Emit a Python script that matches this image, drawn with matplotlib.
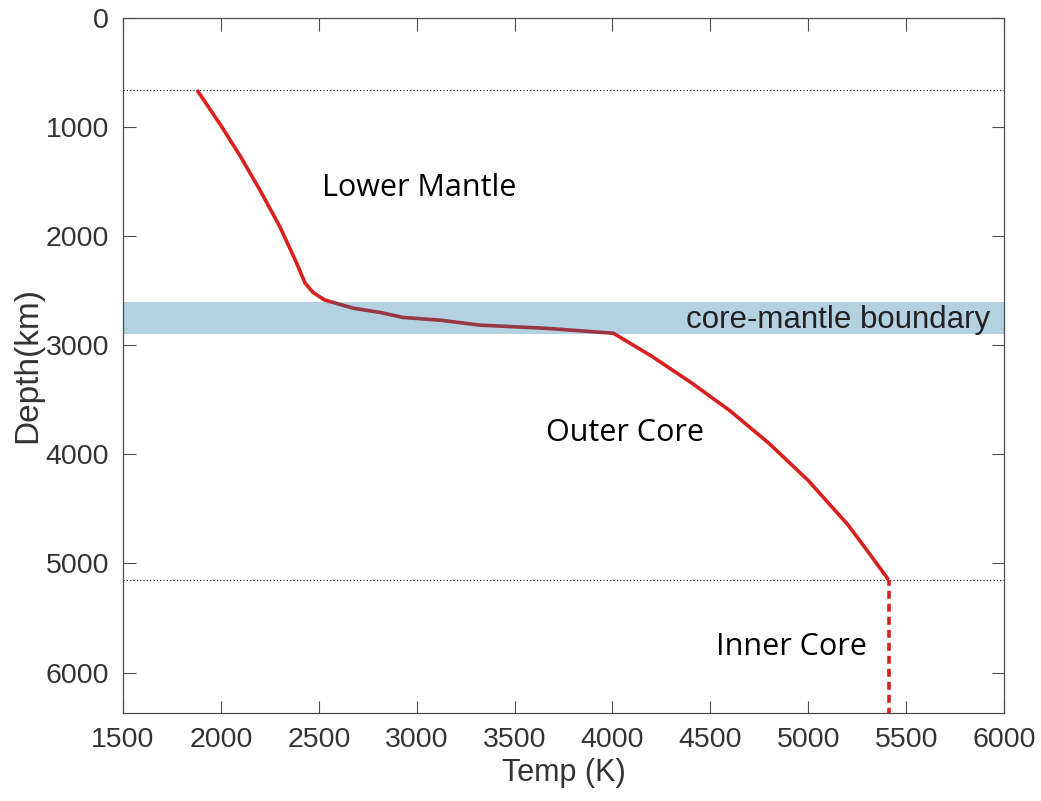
import numpy as np
import matplotlib
matplotlib.use("Agg")
import matplotlib.pyplot as plt

# Geotherm through the lower mantle and core
temp_k = [1878, 2000, 2100, 2200, 2300, 2380, 2430, 2470, 2530, 2675, 2815, 2930,
          3120, 3320, 3665, 4005, 4200, 4400, 4600, 4800, 5000, 5200, 5300, 5410]
depth_km = [660, 985, 1270, 1580, 1910, 2220, 2430, 2515, 2585, 2660, 2700, 2745,
            2770, 2815, 2845, 2890, 3100, 3340, 3600, 3900, 4240, 4640, 4880, 5150]

# Inner core (constant temperature, dashed)
inner_temp = [5410, 5410]
inner_depth = [5150, 6371]

# Layer boundaries
boundary_depths = [660, 5150]
cmb_band = [2600, 2900]

xticks = [1500, 2000, 2500, 3000, 3500, 4000, 4500, 5000, 5500, 6000]
yticks = [0, 1000, 2000, 3000, 4000, 5000, 6000]

fig = plt.figure(figsize=(10.41, 8.01), dpi=100)
ax = fig.add_axes([0.1182, 0.1099, 0.8463, 0.8676])

tick_font = ["Liberation Sans", "DejaVu Sans"]
label_font = ["Open Sans", "DejaVu Sans"]

for d in boundary_depths:
    ax.axhline(d, color="black", linestyle=(0, (1, 2)), linewidth=0.8, zorder=1)

ax.plot(temp_k, depth_km, color="#d8201f", linewidth=2.6, zorder=2,
        solid_capstyle="butt", solid_joinstyle="round")
ax.plot(inner_temp, inner_depth, color="#d8201f", linewidth=2.6,
        linestyle=(0.6, (2.2, 1.4)), zorder=2)

ax.axhspan(cmb_band[0], cmb_band[1], color="#05699b", alpha=0.3, lw=0, zorder=3)

ax.text(5930, 2765, "core-mantle boundary", ha="right", va="center",
        fontsize=22.5, color="#222222", family=tick_font, zorder=4)
ax.text(2515, 1560, "Lower Mantle", ha="left", va="center", fontsize=22,
        family=label_font, color="black")
ax.text(3660, 3800, "Outer Core", ha="left", va="center", fontsize=22,
        family=label_font, color="black")
ax.text(4530, 5770, "Inner Core", ha="left", va="center", fontsize=22,
        family=label_font, color="black")

ax.set_xlim(1500, 6000)
ax.set_ylim(6371, 0)
ax.set_xticks(xticks)
ax.set_yticks(yticks)
ax.tick_params(direction="in", length=9, width=0.8, color="#4d4d4d",
               top=True, right=True, labelsize=20.5, labelcolor="#333333", pad=10)
for lab in ax.get_xticklabels() + ax.get_yticklabels():
    lab.set_family(tick_font)
for s in ax.spines.values():
    s.set_color("#4d4d4d")
    s.set_linewidth(0.9)

ax.set_xlabel("Temp (K)", fontsize=22, color="#333333", family=tick_font, labelpad=4)
ax.set_ylabel("Depth(km)", fontsize=24, color="#333333", family=tick_font, labelpad=2)

fig.savefig("out.png", dpi=100)
